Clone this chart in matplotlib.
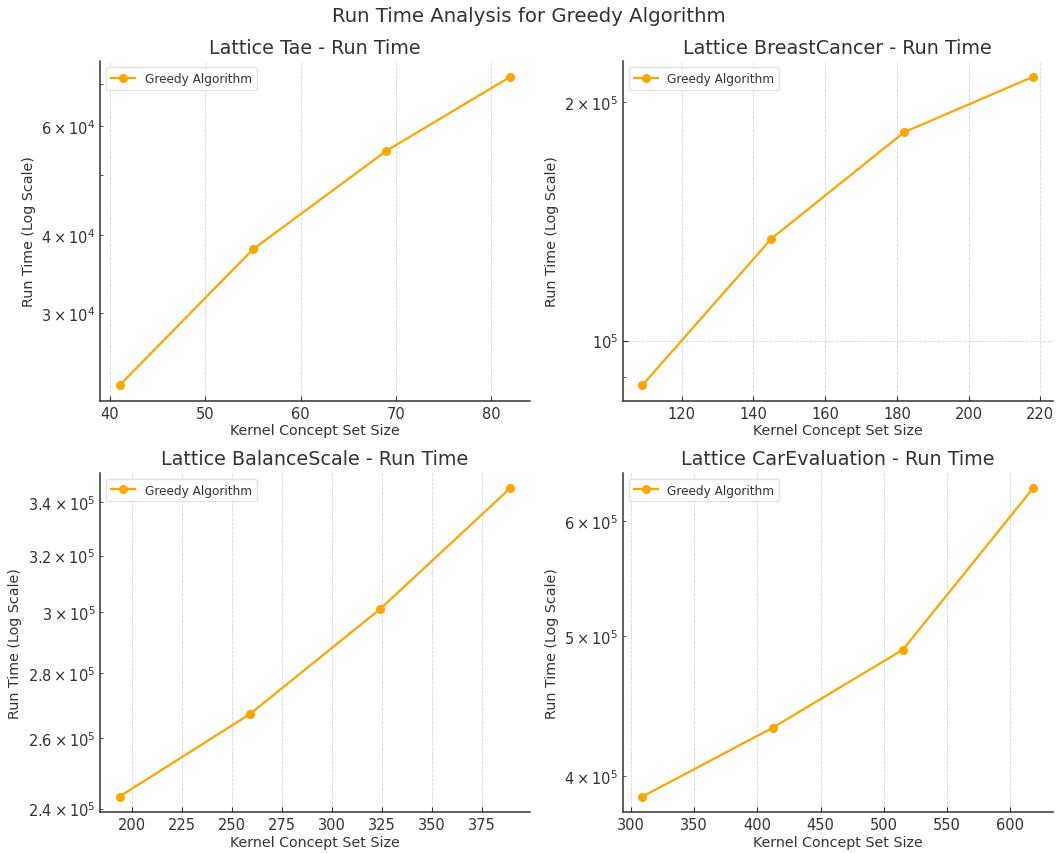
import matplotlib
matplotlib.use("Agg")
import matplotlib.pyplot as plt

# kernel concept set sizes and greedy run times per lattice
tae_sizes = [41, 55, 69, 82]
tae_times = [23000, 38000, 54700, 71900]

breast_sizes = [109, 145, 182, 218]
breast_times = [87800, 134500, 183300, 215400]

balance_sizes = [194, 259, 324, 389]
balance_times = [243300, 267200, 301100, 345500]

car_sizes = [309, 412, 515, 618]
car_times = [387100, 431900, 489100, 632700]

titles = [
    "Lattice Tae - Run Time",
    "Lattice BreastCancer - Run Time",
    "Lattice BalanceScale - Run Time",
    "Lattice CarEvaluation - Run Time",
]

text_color = "#333333"
plt.rcParams["text.color"] = text_color
plt.rcParams["axes.labelcolor"] = text_color
plt.rcParams["xtick.color"] = text_color
plt.rcParams["ytick.color"] = text_color
plt.rcParams["axes.edgecolor"] = text_color
plt.rcParams["axes.linewidth"] = 1.1
plt.rcParams["axes.spines.top"] = False
plt.rcParams["axes.spines.right"] = False
plt.rcParams["xtick.direction"] = "in"
plt.rcParams["ytick.direction"] = "in"

fig, axes = plt.subplots(2, 2, figsize=(10.58, 8.54), dpi=100)
fig.subplots_adjust(left=0.0945, right=0.995, top=0.927, bottom=0.048,
                    wspace=0.216, hspace=0.212)
series = [
    (tae_sizes, tae_times),
    (breast_sizes, breast_times),
    (balance_sizes, balance_times),
    (car_sizes, car_times),
]

for ax, (xs, ys), title in zip(axes.flat, series, titles):
    ax.plot(xs, ys, marker="o", color="orange", lw=1.6, ms=5.5,
            label="Greedy Algorithm")
    ax.set_yscale("log")
    ax.set_title(title, fontsize=13.8)
    ax.set_xlabel("Kernel Concept Set Size", fontsize=10.3, labelpad=2)
    ax.set_ylabel("Run Time (Log Scale)", fontsize=10.3)
    ax.tick_params(axis="both", which="both", labelsize=10.5)
    ax.tick_params(axis="both", which="major", length=3.5)
    ax.tick_params(axis="both", which="minor", length=2.5)
    ax.grid(True, linestyle="--", color="#d4d4d4", lw=0.6)
    ax.legend(loc="upper left", fontsize=8.7, edgecolor="#dddddd")

fig.suptitle("Run Time Analysis for Greedy Algorithm", fontsize=14.2, y=0.992)
fig.savefig("out.png")
